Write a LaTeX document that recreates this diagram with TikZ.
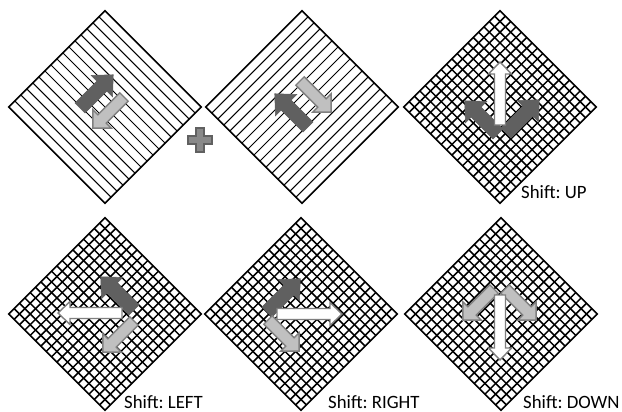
\documentclass[tikz,border=0pt]{standalone}
\usepackage{fontspec}
\setmainfont{Carlito}
\frenchspacing
\definecolor{darkgrey}{RGB}{96,96,96}
\definecolor{lightgrey}{RGB}{192,192,192}
\definecolor{edgegrey}{RGB}{127,127,127}
\definecolor{plusgrey}{RGB}{136,136,136}
\usetikzlibrary{positioning}

% block arrow: style, tail, angle, length, half shaft, half head, head length
\newcommand{\blkarrow}[7]{%
  \draw[#1,shift={#2},rotate=#3] (0,-#5) -- ({#4-#7},-#5) -- ({#4-#7},-#6) -- (#4,0)
    -- ({#4-#7},#6) -- ({#4-#7},#5) -- (0,#5) -- cycle;}
\newcommand{\darkarr}[2]{\blkarrow{darkarrow}{#1}{#2}{47}{7}{15}{16}}
\newcommand{\lightarr}[2]{\blkarrow{lightarrow}{#1}{#2}{44}{6}{13}{13}}
\newcommand{\whitearr}[3]{\blkarrow{whitearrow}{#1}{#2}{#3}{5.5}{11.5}{12}}

\begin{document}
\begin{tikzpicture}[x=1pt,y=-1pt,
    frame/.style={draw=black,line width=1.6pt,line join=miter},
    hatch/.style={draw=black,line width=1pt},
    gridline/.style={draw=black,line width=1.5pt},
    darkarrow/.style={fill=darkgrey,draw=darkgrey,line width=0.6pt},
    lightarrow/.style={fill=lightgrey,draw=edgegrey,line width=1.4pt},
    whitearrow/.style={fill=white,draw=edgegrey,line width=1.4pt},
    plussign/.style={fill=plusgrey,draw=darkgrey,line width=1.4pt},
    shiftlabel/.style={anchor=base west,inner sep=0pt,font=\fontsize{18.8}{20}\selectfont}
  ]
  \useasboundingbox (0,0) rectangle (622,412);

  % hatched squares
  \begin{scope}[shift={(105,107)},rotate=45]
    \foreach \k in {1,...,15} \draw[hatch] ({-68+\k*136/16},-68) -- ({-68+\k*136/16},68);
    \draw[frame] (-68,-68) rectangle (68,68);
  \end{scope}
  \begin{scope}[shift={(302,107)},rotate=45]
    \foreach \k in {1,...,15} \draw[hatch] (-68,{-68+\k*136/16}) -- (68,{-68+\k*136/16});
    \draw[frame] (-68,-68) rectangle (68,68);
  \end{scope}

  % grid squares
  \foreach \cx/\cy in {500/107,105/314,301/314,501/314} {
    \begin{scope}[shift={(\cx,\cy)},rotate=45]
      \foreach \k in {1,...,17} {
        \draw[gridline] ({-68+\k*136/18},-68) -- ({-68+\k*136/18},68);
        \draw[gridline] (-68,{-68+\k*136/18}) -- (68,{-68+\k*136/18});
      }
      \draw[frame] (-68,-68) rectangle (68,68);
    \end{scope}
  }

  \draw[plussign] (196,128) -- (204,128) -- (204,136) -- (212,136) -- (212,144) -- (204,144)
    -- (204,152) -- (196,152) -- (196,144) -- (188,144) -- (188,136) -- (196,136) -- cycle;

  \darkarr{(80,108)}{45}
  \lightarr{(124,97)}{225}

  \darkarr{(308,127)}{135}
  \lightarr{(300,81)}{-45}

  \darkarr{(498,134)}{135}
  \darkarr{(506,133)}{45}
  \whitearr{(500,125)}{90}{63}

  \darkarr{(134,310)}{135}
  \lightarr{(134,321)}{225}
  \whitearr{(122,313)}{180}{64}

  \darkarr{(267,312)}{45}
  \lightarr{(268,320)}{-45}
  \whitearr{(277,314)}{0}{65}

  \lightarr{(494,289)}{225}
  \lightarr{(505,289)}{-45}
  \whitearr{(500,295)}{-90}{65}

  \node[shiftlabel] (lblup) at (521,198) {Shift: UP};
  \node[shiftlabel] (lblleft) at (124,408) {Shift: LEFT};
  \node[shiftlabel] (lblright) at (328,408) {Shift: RIGHT};
  \node[shiftlabel] (lbldown) at (523,408) {Shift: DOWN};
\end{tikzpicture}
\end{document}
